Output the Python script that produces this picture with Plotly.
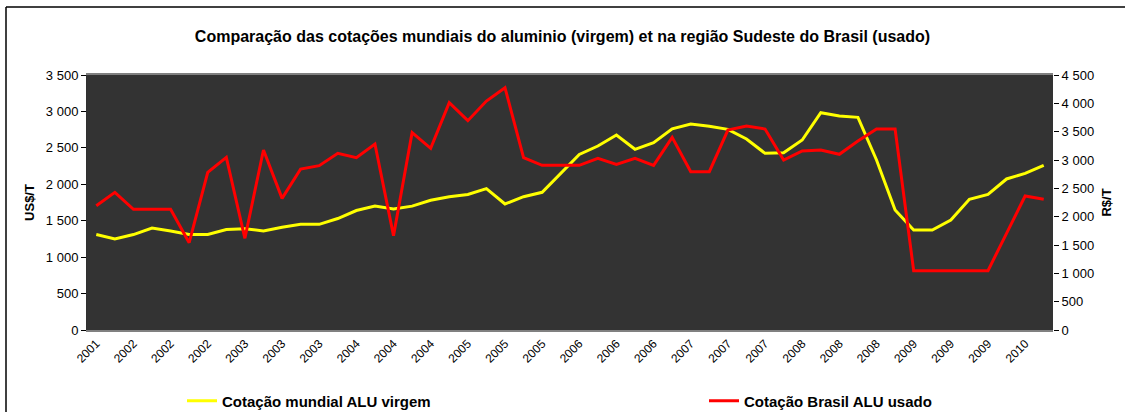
import plotly.graph_objects as go

# --- data -------------------------------------------------------------
tick_labels = ["2001", "2002", "2002", "2002", "2003", "2003", "2003",
               "2004", "2004", "2004", "2005", "2005", "2005", "2006",
               "2006", "2006", "2007", "2007", "2007", "2008", "2008",
               "2008", "2009", "2009", "2009", "2010"]

mundial_usd = [1310, 1250, 1310, 1400, 1360, 1310, 1310, 1380, 1390, 1360,
               1410, 1450, 1450, 1530, 1640, 1700, 1660, 1700, 1780, 1830,
               1860, 1940, 1730, 1830, 1890, 2150, 2410, 2525, 2676, 2480,
               2570, 2760, 2827, 2796, 2754, 2622, 2425, 2434, 2608, 2983,
               2937, 2919, 2333, 1647, 1373, 1373, 1510, 1794, 1862, 2073,
               2150, 2259]

brasil_brl = [2194, 2429, 2129, 2129, 2129, 1541, 2782, 3047, 1618, 3176,
              2323, 2841, 2900, 3118, 3041, 3282, 1665, 3482, 3206, 4012,
              3694, 4041, 4276, 3041, 2906, 2906, 2906, 3029, 2923, 3029,
              2906, 3400, 2794, 2794, 3529, 3600, 3547, 3000, 3159, 3176,
              3100, 3335, 3547, 3547, 1047, 1047, 1047, 1047, 1047, 1706,
              2365, 2306]

series_names = ["Cotação mundial ALU virgem", "Cotação Brasil ALU usado"]

x_idx = list(range(len(mundial_usd)))
tick_pos = x_idx[::2]

FONT = "Arial, Liberation Sans, sans-serif"
W, H = 1125, 412
L, R, T, B = 87, 72, 75, 82

fig = go.Figure()
fig.add_trace(go.Scatter(x=x_idx, y=mundial_usd, mode="lines",
                         name=f"<b>{series_names[0]}</b>",
                         line=dict(color="#FFFF00", width=3), yaxis="y",
                         legend="legend"))
fig.add_trace(go.Scatter(x=x_idx, y=brasil_brl, mode="lines",
                         name=f"<b>{series_names[1]}</b>",
                         line=dict(color="#FF0000", width=3), yaxis="y2",
                         legend="legend2"))

legend_common = dict(orientation="h", xref="container", yref="container",
                     xanchor="left", yanchor="middle", y=1 - 401 / H,
                     font=dict(size=15, family=FONT, color="black"),
                     bgcolor="rgba(0,0,0,0)")

fig.update_layout(
    width=W, height=H,
    margin=dict(l=L, r=R, t=T, b=B, autoexpand=False),
    paper_bgcolor="white",
    plot_bgcolor="#333333",
    separators=". ",
    font=dict(family=FONT, size=12, color="black"),
    title=dict(text="<b>Comparação das cotações mundiais do aluminio (virgem) et na região Sudeste do Brasil (usado)</b>",
               x=0.5, xref="container", xanchor="center",
               y=1 - 36 / H, yref="container", yanchor="middle",
               font=dict(family=FONT, size=16, color="black")),
    xaxis=dict(range=[-0.5, len(x_idx) - 0.5], tickmode="array",
               tickvals=tick_pos, ticktext=tick_labels, tickangle=-45,
               showgrid=False, zeroline=False, showline=True,
               linecolor="#808080", linewidth=2, mirror=True,
               ticks="", tickfont=dict(size=12, family=FONT, color="black")),
    yaxis=dict(range=[0, 3500], dtick=500, tickformat=",d",
               showgrid=False, zeroline=False, showline=True,
               linecolor="#303030", linewidth=1,
               ticks="outside", ticklen=5, tickcolor="black",
               tickfont=dict(size=13, family=FONT),
               title=dict(text="<b>US$/T</b>", standoff=8,
                          font=dict(size=13, family=FONT))),
    yaxis2=dict(range=[0, 4500], dtick=500, tickformat=",d",
                overlaying="y", side="right",
                showgrid=False, zeroline=False, showline=False,
                ticks="outside", ticklen=5, tickcolor="black",
                tickfont=dict(size=13, family=FONT),
                title=dict(text="<b>R$/T</b>", standoff=8,
                           font=dict(size=13, family=FONT))),
    legend=dict(x=182 / W, **legend_common),
    legend2=dict(x=704 / W, **legend_common),
    showlegend=True,
)

# outer chart frame (top and left edges visible in the reference)
pw, ph = W - L - R, H - T - B
fx0 = (6 - L) / pw
fx1 = (W + 5 - L) / pw
fy_top = (H - B - 7) / ph
fy_bot = (H - B - (H + 5)) / ph
fig.add_shape(type="line", xref="paper", yref="paper",
              x0=fx0, x1=fx1, y0=fy_top, y1=fy_top,
              line=dict(color="black", width=1.5), layer="below")
fig.add_shape(type="line", xref="paper", yref="paper",
              x0=fx0, x1=fx0, y0=fy_bot, y1=fy_top,
              line=dict(color="black", width=1.5), layer="below")

fig.write_html("out.html",
               config={"displayModeBar": False},
               post_script="document.body.style.margin='0';document.body.style.overflow='hidden';")
